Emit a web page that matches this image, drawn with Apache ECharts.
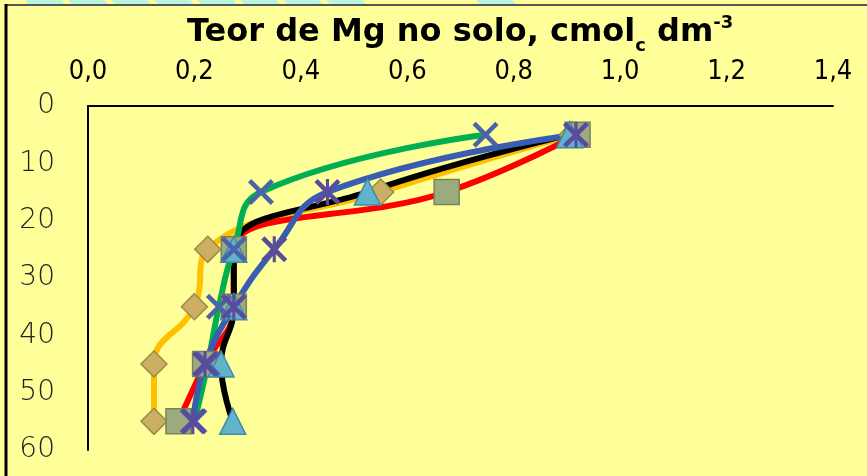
<!DOCTYPE html>
<html lang="pt">
<head>
    <meta charset="UTF-8">
    <title>Teor de Mg no solo</title>
    <style>
        body { margin: 0; background: #ffffff; }
        #main { position: absolute; left: 0; top: 0; width: 867px; height: 476px; }
    </style>
</head>
<body>
<div id='main'></div>
</body>
<script src="https://cdn.jsdelivr.net/npm/echarts@6/dist/echarts.min.js"></script>
<script>
    // profundidade (cm) e teores de Mg (cmolc dm-3)
    var depths = [5, 15, 25, 35, 45, 55];
    var xTicks = ['0,0', '0,2', '0,4', '0,6', '0,8', '1,0', '1,2', '1,4'];
    var diamondVals = [0.91, 0.55, 0.225, 0.20, 0.124, 0.124];
    var squareVals = [0.92, 0.674, 0.274, 0.274, 0.22, 0.17];
    var triangleVals = [0.905, 0.525, 0.274, 0.274, 0.25, 0.272];
    var crossVals = [0.747, 0.325, 0.274, 0.246, 0.225, 0.20];
    var starVals = [0.917, 0.45, 0.35, 0.274, 0.22, 0.197];

    var crossPath = 'path://M0,2.5 L2.5,0 L10,7.5 L17.5,0 L20,2.5 L12.5,10 L20,17.5 L17.5,20 L10,12.5 L2.5,20 L0,17.5 L7.5,10 Z';
    var starPath = crossPath + ' M8.8,0 L11.2,0 L11.2,20 L8.8,20 Z';

    function pairs(vals) {
        return vals.map(function (v, i) { return [v, depths[i]]; });
    }

    function makeSeries(vals, lineColor, symbol, size, fill, border) {
        return {
            type: 'line',
            data: pairs(vals),
            smooth: 0.45,
            symbol: symbol,
            symbolSize: size,
            lineStyle: { color: lineColor, width: 6 },
            itemStyle: { color: fill, borderColor: border, borderWidth: border ? 1.5 : 0 },
            emphasis: { disabled: true }
        };
    }

    // faixas decorativas no topo
    var stripes = [];
    [25, 68, 111, 154, 197, 240, 283, 326, 476].forEach(function (x) {
        stripes.push({
            type: 'polygon',
            shape: { points: [[x, 0], [x + 36, 0], [x + 40, 4], [x + 4, 4]] },
            style: { fill: '#b9f6df' }
        });
    });

    var myChart = echarts.init(document.getElementById('main'));
    var option = {
        backgroundColor: '#ffff99',
        animation: false,
        title: {
            text: '{a|Teor de Mg no solo, cmol}{s|c}{a| dm}{p|-3}',
            left: 182,
            top: 9,
            textStyle: {
                rich: {
                    a: { fontFamily: 'DejaVu Sans', fontWeight: 'bold', fontSize: 32, color: '#000', lineHeight: 38 },
                    s: { fontFamily: 'DejaVu Sans', fontWeight: 'bold', fontSize: 18, color: '#000', verticalAlign: 'bottom', lineHeight: 38, padding: [0, 0, -3, 0] },
                    p: { fontFamily: 'DejaVu Sans', fontWeight: 'bold', fontSize: 18, color: '#000', verticalAlign: 'top', lineHeight: 38 }
                }
            }
        },
        grid: { left: 88, right: 34, top: 106, bottom: 26 },
        xAxis: {
            type: 'value',
            position: 'top',
            min: 0,
            max: 1.4,
            interval: 0.2,
            axisLine: { show: true, onZero: false, lineStyle: { color: '#000', width: 2 } },
            axisTick: { show: false },
            splitLine: { show: false },
            axisLabel: {
                margin: 21,
                fontFamily: 'DejaVu Sans Condensed',
                fontSize: 27,
                color: '#000',
                formatter: function (v) { return xTicks[Math.round(v / 0.2)]; }
            }
        },
        yAxis: {
            type: 'value',
            inverse: true,
            min: 0,
            max: 60,
            interval: 10,
            axisLine: { show: true, onZero: false, lineStyle: { color: '#000', width: 2 } },
            axisTick: { show: false },
            splitLine: { show: false },
            axisLabel: {
                margin: 33,
                fontFamily: 'DejaVu Sans',
                fontWeight: 'lighter',
                fontSize: 28,
                color: '#222'
            }
        },
        graphic: stripes.concat([
            { type: 'line', shape: { x1: 5, y1: 5, x2: 867, y2: 5 }, style: { stroke: '#555', lineWidth: 2 } },
            { type: 'line', shape: { x1: 6, y1: 4, x2: 6, y2: 476 }, style: { stroke: '#000', lineWidth: 3 } }
        ]),
        series: [
            makeSeries(diamondVals, '#ffc000', 'diamond', 26, '#cbb063', '#9c8a4a'),
            makeSeries(squareVals, '#ff0000', 'rect', 25, '#9cab7e', '#74855a'),
            makeSeries(triangleVals, '#000000', 'triangle', 26, '#62b2cc', '#3f8ca6'),
            makeSeries(crossVals, '#00b050', crossPath, 26, '#4a64a8', null),
            makeSeries(starVals, '#3a5db4', starPath, 26, '#5a4c9c', null)
        ]
    };
    myChart.setOption(option);
</script>
</html>
